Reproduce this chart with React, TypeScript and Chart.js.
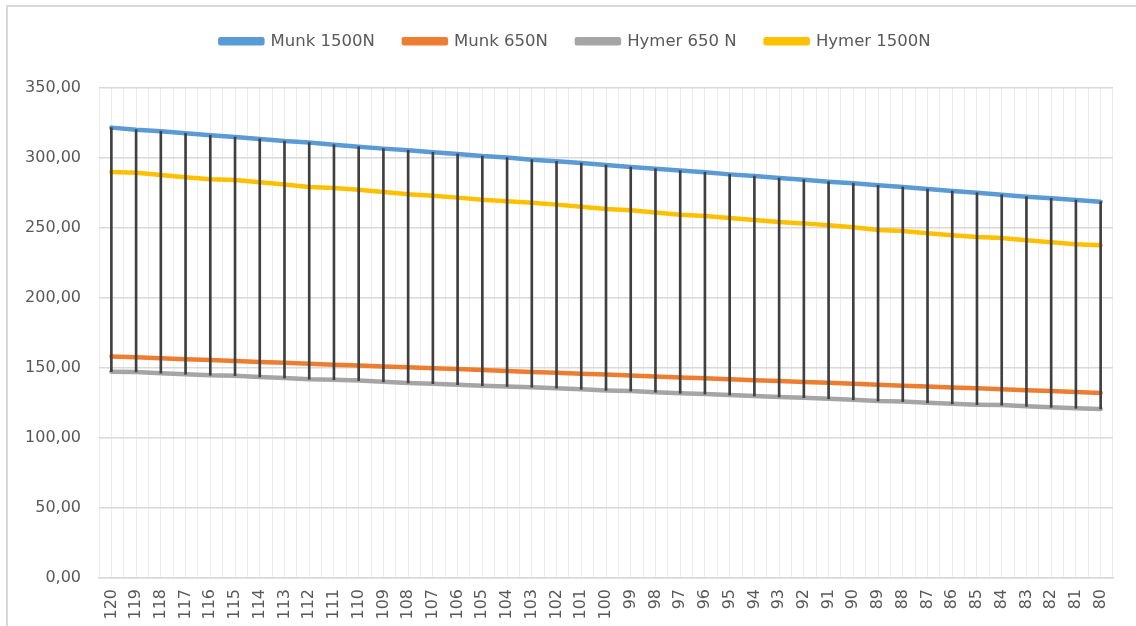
import React, { useEffect, useRef } from 'react';
import { Chart, registerables } from 'chart.js';

Chart.register(...registerables);

const categories = [
  '120', '119', '118', '117', '116', '115', '114', '113', '112', '111', '110',
  '109', '108', '107', '106', '105', '104', '103', '102', '101', '100',
  '99', '98', '97', '96', '95', '94', '93', '92', '91', '90',
  '89', '88', '87', '86', '85', '84', '83', '82', '81', '80',
];

const munk1500 = [
  321.7, 320.2, 319.1, 317.6, 316.2, 315.0, 313.6, 312.1, 311.0, 309.5, 308.1,
  306.7, 305.5, 304.1, 302.9, 301.4, 300.3, 298.8, 297.6, 296.4, 295.0,
  293.6, 292.4, 291.0, 289.8, 288.3, 287.1, 285.7, 284.5, 283.1, 281.9,
  280.5, 279.3, 277.9, 276.4, 275.2, 273.8, 272.4, 271.2, 270.0, 268.8,
];

const munk650 = [
  158.3, 157.6, 157.0, 156.3, 155.7, 155.0, 154.3, 153.7, 153.1, 152.4, 151.8,
  151.1, 150.5, 149.8, 149.2, 148.5, 147.9, 147.2, 146.6, 145.9, 145.3,
  144.6, 144.0, 143.3, 142.6, 142.0, 141.3, 140.7, 140.0, 139.4, 138.7,
  138.1, 137.4, 136.8, 136.1, 135.5, 134.8, 134.1, 133.5, 132.8, 132.2,
];

const hymer650 = [
  147.4, 147.2, 146.3, 145.5, 144.8, 144.5, 143.6, 142.8, 142.0, 141.6, 141.0,
  140.1, 139.3, 138.8, 138.1, 137.3, 136.8, 136.3, 135.6, 134.8, 134.0,
  133.5, 132.7, 131.9, 131.4, 130.7, 130.0, 129.3, 128.8, 128.0, 127.3,
  126.4, 126.0, 125.1, 124.4, 123.8, 123.5, 122.6, 121.9, 121.2, 120.8,
];

const hymer1500 = [
  290.0, 289.5, 287.9, 286.2, 284.8, 284.3, 282.6, 281.0, 279.3, 278.6, 277.4,
  275.7, 274.1, 273.1, 271.7, 270.2, 269.1, 268.1, 266.7, 265.2, 263.6,
  262.6, 261.0, 259.5, 258.6, 257.1, 255.7, 254.3, 253.3, 251.9, 250.5,
  248.6, 247.9, 246.2, 244.8, 243.6, 242.9, 241.2, 239.8, 238.4, 237.6,
];

const seriesNames = ['Munk 1500N', 'Munk 650N', 'Hymer 650 N', 'Hymer 1500N'];
const seriesColors = ['#5b9bd5', '#ed7d31', '#a5a5a5', '#ffc000'];

const FONT = "'DejaVu Sans', sans-serif";

export default function App() {
  const canvasRef = useRef<HTMLCanvasElement | null>(null);

  useEffect(() => {
    const canvas = canvasRef.current;
    if (!canvas) return;
    const series = [munk1500, munk650, hymer650, hymer1500];
    const hiLo = categories.map((_, i) => {
      const vals = series.map((s) => s[i]);
      return [Math.min(...vals), Math.max(...vals)];
    });

    const legendPlugin = {
      id: 'legendPlacement',
      beforeInit(chart: any) {
        const legend = chart.legend;
        if (!legend) return;
        const origFit = legend.fit;
        legend.fit = function () {
          origFit.call(this);
          this.height = 84;
        };
      },
      afterLayout(chart: any) {
        const legend = chart.legend;
        if (!legend) return;
        legend.left = 38;
      },
    };

    const lineDatasets = series.map((data, i) => ({
      type: 'line' as const,
      label: seriesNames[i],
      data,
      borderColor: seriesColors[i],
      backgroundColor: seriesColors[i],
      borderWidth: 4.5,
      borderCapStyle: 'round' as const,
      borderJoinStyle: 'round' as const,
      pointRadius: 0,
      pointHoverRadius: 0,
      tension: 0,
      fill: false,
      order: 1,
      xAxisID: 'x',
    }));

    const chart = new Chart(canvas, {
      type: 'line',
      data: {
        labels: categories,
        datasets: [
          ...lineDatasets,
          {
            type: 'bar' as const,
            label: 'hilo',
            data: hiLo as any,
            backgroundColor: '#404040',
            borderWidth: 0,
            barThickness: 2,
            order: 0,
            xAxisID: 'x',
          } as any,
        ],
      },
      options: {
        responsive: false,
        animation: false,
        devicePixelRatio: 1,
        layout: { padding: { left: 0, right: 23, top: 4, bottom: 0 } },
        plugins: {
          tooltip: { enabled: false },
          legend: {
            position: 'top',
            align: 'center',
            labels: {
              boxWidth: 42,
              boxHeight: 4,
              padding: 29,
              color: '#595959',
              font: { family: FONT, size: 16.5 },
              filter: (item: any) => item.datasetIndex < 4,
              sort: (a: any, b: any) => a.datasetIndex - b.datasetIndex,
            },
          },
        },
        scales: {
          x: {
            type: 'category',
            position: 'bottom',
            offset: true,
            grid: {
              offset: true,
              color: '#ececec',
              lineWidth: 1,
              drawTicks: false,
            },
            border: { display: true, color: '#d9d9d9', width: 1.5 },
            ticks: {
              autoSkip: false,
              minRotation: 90,
              maxRotation: 90,
              padding: 11,
              color: '#595959',
              font: { family: FONT, size: 16 },
            },
            afterFit: (scale: any) => {
              scale.height = 48;
            },
          },
          x2: {
            type: 'category',
            position: 'bottom',
            offset: true,
            labels: categories,
            grid: {
              offset: false,
              color: '#ececec',
              lineWidth: 1,
              drawTicks: false,
            },
            border: { display: false },
            ticks: { display: false },
            afterFit: (scale: any) => {
              scale.height = 0;
            },
          },
          y: {
            type: 'linear',
            min: 0,
            max: 350,
            ticks: {
              stepSize: 50,
              padding: 18,
              color: '#595959',
              font: { family: FONT, size: 16 },
              callback: (v: any) => Number(v).toFixed(2).replace('.', ','),
            },
            grid: {
              color: '#d9d9d9',
              lineWidth: 1.5,
              drawTicks: false,
            },
            border: { display: false },
            afterFit: (scale: any) => {
              scale.width = 99;
            },
          },
        },
      } as any,
      plugins: [legendPlugin],
    });

    return () => {
      chart.destroy();
    };
  }, []);

  return (
    <div
      style={{
        position: 'fixed',
        left: 0,
        top: 0,
        width: 1136,
        height: 626,
        background: '#ffffff',
        overflow: 'hidden',
      }}
    >
      <div
        style={{
          position: 'absolute',
          left: 6,
          top: 5,
          right: 0,
          bottom: 0,
          borderTop: '2px solid #d9d9d9',
          borderLeft: '2px solid #d9d9d9',
          pointerEvents: 'none',
        }}
      />
      <canvas
        ref={canvasRef}
        width={1136}
        height={626}
        style={{ position: 'absolute', left: 0, top: 0, display: 'block' }}
      />
    </div>
  );
}
